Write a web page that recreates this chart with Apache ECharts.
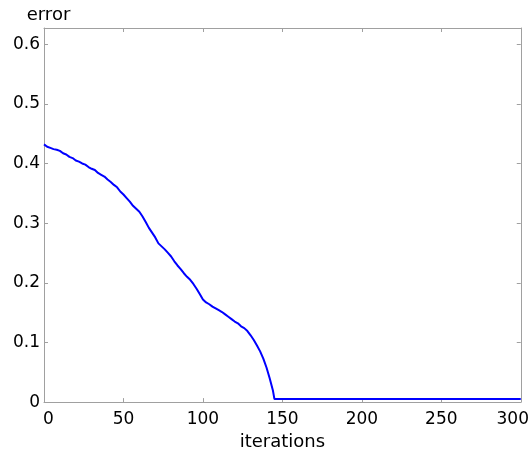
<!DOCTYPE html>
<html>
<head>
<meta charset="utf-8">
<script src="https://cdn.jsdelivr.net/npm/echarts@6/dist/echarts.min.js"></script>
<style>
html,body{margin:0;padding:0;background:#fff;}
#chart{width:532px;height:456px;}
</style>
</head>
<body>
<div id="chart"></div>
<script>
// iterations (x) and error (y)
const iterations = [0,2,4,6,8,10,12,14,16,18,20,22,24,26,28,30,32,34,36,38,40,42,44,46,48,50,
  52,54,56,58,60,62,64,66,68,70,72,74,76,78,80,82,84,86,88,90,92,94,96,98,100,
  102,104,106,108,110,112,114,116,118,120,122,124,126,128,130,132,134,136,138,140,142,144,145,
  160,200,250,300];
const errorValues = [0.432,0.428,0.426,0.424,0.423,0.421,0.417,0.415,0.411,0.409,0.405,0.403,0.400,0.398,0.394,0.391,0.389,0.384,0.381,0.378,0.373,0.369,0.364,0.360,0.353,0.348,
  0.342,0.336,0.329,0.324,0.319,0.311,0.302,0.292,0.284,0.276,0.266,0.261,0.256,0.250,0.244,0.236,0.229,0.223,0.216,0.210,0.205,0.198,0.190,0.181,0.172,
  0.167,0.164,0.160,0.157,0.154,0.151,0.147,0.143,0.139,0.135,0.132,0.127,0.124,0.119,0.112,0.104,0.095,0.085,0.073,0.058,0.040,0.020,0.005,
  0.005,0.005,0.005,0.005];
const xTicks = [0,50,100,150,200,250,300];
const yTicks = [0,0.1,0.2,0.3,0.4,0.5,0.6];
const xName = 'iterations';
const yName = 'error';

const points = iterations.map((x, i) => [x, errorValues[i]]);
const axisColor = '#a0a0a0';
const font = 'DejaVu Sans';
const X_MIN = 0, X_MAX = 300, X_INT = 50;
const Y_MIN = 0, Y_MAX = 0.627, Y_INT = 0.1;

const chart = echarts.init(document.getElementById('chart'), null, {renderer: 'canvas'});
const commonLine = {show: true, onZero: false, lineStyle: {color: axisColor, width: 1}};
const commonTick = {show: true, inside: true, length: 4, lineStyle: {color: axisColor, width: 1}};

chart.setOption({
  animation: false,
  backgroundColor: '#fff',
  grid: {left: 44, right: 9, top: 28, bottom: 50, containLabel: false},
  xAxis: [{
    type: 'value', min: X_MIN, max: X_MAX, interval: X_INT,
    name: xName, nameLocation: 'middle', nameGap: 28,
    nameTextStyle: {color: '#000', fontFamily: font, fontSize: 18},
    axisLine: commonLine, axisTick: commonTick, splitLine: {show: false},
    axisLabel: {
      color: '#000', fontFamily: font, fontSize: 17, margin: 9,
      formatter: v => {
        if (!xTicks.includes(v)) return '';
        if (v === 0) return '{l|0}';
        if (v === 300) return '{r|300}';
        return String(v);
      },
      rich: {
        l: {fontFamily: font, fontSize: 17, color: '#000', padding: [0, 0, 0, 9]},
        r: {fontFamily: font, fontSize: 17, color: '#000', padding: [0, 16, 0, 0]}
      }
    }
  }, {
    type: 'value', position: 'top', min: X_MIN, max: X_MAX, interval: X_INT,
    axisLine: commonLine, axisTick: commonTick, splitLine: {show: false},
    axisLabel: {show: false}
  }],
  yAxis: [{
    type: 'value', min: Y_MIN, max: Y_MAX, interval: Y_INT,
    name: yName, nameLocation: 'end', nameGap: 4,
    nameTextStyle: {color: '#000', fontFamily: font, fontSize: 18, padding: [0, 0, 0, 9]},
    axisLine: commonLine, axisTick: commonTick, splitLine: {show: false},
    axisLabel: {
      color: '#000', fontFamily: font, fontSize: 17, margin: 4, showMaxLabel: false,
      formatter: v => {
        const t = yTicks.find(y => Math.abs(y - v) < 1e-6);
        if (t === undefined) return '';
        return t === 0 ? '0' : t.toFixed(1);
      }
    }
  }, {
    type: 'value', position: 'right', min: Y_MIN, max: Y_MAX, interval: Y_INT,
    axisLine: commonLine, axisTick: commonTick, splitLine: {show: false},
    axisLabel: {show: false}
  }],
  series: [{
    type: 'line', xAxisIndex: 0, yAxisIndex: 0,
    data: points, showSymbol: false, symbol: 'none',
    lineStyle: {color: '#0000ff', width: 2},
    z: 1
  }]
});
</script>
</body>
</html>
